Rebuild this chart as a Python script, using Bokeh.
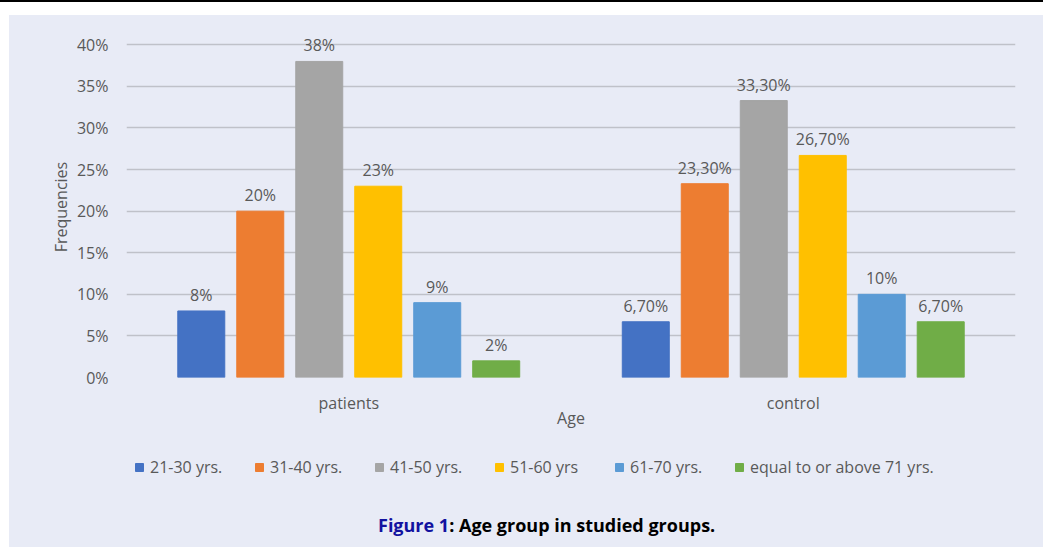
from bokeh.plotting import figure
from bokeh.layouts import column
from bokeh.models import ColumnDataSource, FactorRange, FixedTicker, NumeralTickFormatter, Legend, LegendItem, Div
from bokeh.transform import dodge
from bokeh.core.properties import value
from bokeh.embed import file_html
from bokeh.resources import INLINE

groups = ["patients", "control"]
age_groups = ["21-30 yrs.", "31-40 yrs.", "41-50 yrs.", "51-60 yrs", "61-70 yrs.", "equal to or above 71 yrs."]
patients = [0.08, 0.20, 0.38, 0.23, 0.09, 0.02]
control = [0.067, 0.233, 0.333, 0.267, 0.10, 0.067]
patients_labels = ["8%", "20%", "38%", "23%", "9%", "2%"]
control_labels = ["6,70%", "23,30%", "33,30%", "26,70%", "10%", "6,70%"]
colors = ["#4472C4", "#ED7D31", "#A5A5A5", "#FFC000", "#5B9BD5", "#70AD47"]
y_ticks = [0, 0.05, 0.10, 0.15, 0.20, 0.25, 0.30, 0.35, 0.40]
caption_num = "Figure 1"
caption_text = ": Age group in studied groups."

BG = "#E8EBF6"
TXT = "#595959"
FONT = "Open Sans"
FS = "16px"

top_rule = Div(text="", width=1043, height=15, margin=(0, 0, 0, 0),
               styles={"background-color": "white", "border-top": "2px solid black", "box-sizing": "border-box"})

p = figure(x_range=FactorRange(*groups), y_range=(0, 0.41), width=1034, height=417,
           output_backend="svg", toolbar_location=None,
           min_border_left=117, min_border_right=28, min_border_top=21, min_border_bottom=55,
           margin=(0, 0, 0, 0))
p.background_fill_color = BG
p.border_fill_color = BG
p.outline_line_color = None

# strip below the chart that carries the legend (its bars sit outside its view)
lg = figure(x_range=FactorRange(*groups), y_range=(1, 2), width=1034, height=68,
            output_backend="svg", toolbar_location=None,
            x_axis_type=None, y_axis_type=None, min_border=0, margin=(0, 0, 0, 0))
lg.background_fill_color = BG
lg.border_fill_color = BG
lg.outline_line_color = None
lg.xgrid.grid_line_color = None
lg.ygrid.grid_line_color = None

pitch = 0.1327
bar_w = 0.1057
items = []
for i, name in enumerate(age_groups):
    src = ColumnDataSource(dict(group=groups, val=[patients[i], control[i]],
                                lab=[patients_labels[i], control_labels[i]]))
    off = (i - 2.5) * pitch
    p.vbar(x=dodge("group", off, range=p.x_range), top="val", width=bar_w, source=src,
           fill_color=colors[i], line_color=colors[i])
    p.text(x=dodge("group", off, range=p.x_range), y="val", text="lab", source=src,
           text_align="center", text_baseline="bottom", y_offset=-5,
           text_font=value(FONT), text_font_size=FS, text_color=TXT)
    key = lg.vbar(x=dodge("group", off, range=lg.x_range), top="val", width=bar_w, source=src,
                  fill_color=colors[i], line_color=colors[i])
    items.append(LegendItem(label=name, renderers=[key]))

# axes
p.yaxis.ticker = FixedTicker(ticks=y_ticks)
p.yaxis.formatter = NumeralTickFormatter(format="0%")
p.yaxis.axis_line_color = None
p.yaxis.major_tick_line_color = None
p.yaxis.minor_tick_line_color = None
p.yaxis.major_label_standoff = 12
p.yaxis.major_label_text_font = FONT
p.yaxis.major_label_text_font_size = FS
p.yaxis.major_label_text_color = TXT
p.yaxis.axis_label = "Frequencies"
p.yaxis.axis_label_text_font = FONT
p.yaxis.axis_label_text_font_size = FS
p.yaxis.axis_label_text_font_style = "normal"
p.yaxis.axis_label_text_color = TXT
p.yaxis.axis_label_standoff = 2

p.xaxis.axis_line_color = None
p.xaxis.major_tick_line_color = None
p.xaxis.minor_tick_line_color = None
p.xaxis.major_label_standoff = 8
p.xaxis.major_label_text_font = FONT
p.xaxis.major_label_text_font_size = FS
p.xaxis.major_label_text_color = TXT
p.xaxis.axis_label = "Age"
p.xaxis.axis_label_text_font = FONT
p.xaxis.axis_label_text_font_size = FS
p.xaxis.axis_label_text_font_style = "normal"
p.xaxis.axis_label_text_color = TXT
p.xaxis.axis_label_standoff = -10

p.xgrid.grid_line_color = None
p.ygrid.grid_line_color = "#BFC1C9"
p.ygrid.grid_line_width = 1.3

legend = Legend(items=items, orientation="horizontal", location=(8, 22),
                glyph_width=10, glyph_height=10, label_standoff=6, label_width=94,
                spacing=10, padding=0, margin=0, border_line_color=None, background_fill_alpha=0,
                label_text_font=FONT, label_text_font_size=FS, label_text_color=TXT)
lg.add_layout(legend, "center")

caption = Div(text=f'<span style="color:#1212A0">{caption_num}</span>{caption_text}',
              width=1034, height=47, margin=(0, 0, 0, 0),
              styles={"background-color": BG, "font-family": FONT, "font-weight": "bold",
                      "font-size": "18px", "color": "black", "padding-left": "369px",
                      "padding-top": "3px", "line-height": "44px", "box-sizing": "border-box"})

panel = column(p, lg, caption, spacing=0, margin=(0, 0, 0, 9),
               styles={"background-color": BG})
layout = column(top_rule, panel, spacing=0)
open("out.html", "w").write(file_html(layout, INLINE))
